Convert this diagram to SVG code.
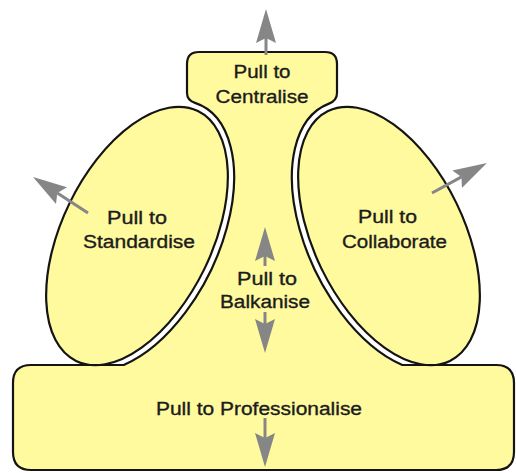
<svg xmlns="http://www.w3.org/2000/svg" width="516" height="473" viewBox="0 0 516 473">
  <style>
    .area { fill: #fffa9e; stroke: #141414; stroke-width: 2.2; stroke-linejoin: round; }
    .label { font-family: "Liberation Sans", Arial, sans-serif; font-size: 18px; fill: #1c1c1c; stroke: #1c1c1c; stroke-width: 0.35; text-anchor: middle; }
    .pull { fill: none; stroke: #868686; stroke-width: 3; marker-end: url(#head); }
  </style>
  <defs>
    <!-- swept-back arrowhead; line ends at the notch (x=5) -->
    <marker id="head" markerUnits="userSpaceOnUse" viewBox="0 -11 36 22" markerWidth="36" markerHeight="22" refX="5" refY="0" orient="auto">
      <path d="M0,-10 L34,0 L0,10 L5,0 Z" fill="#868686"/>
    </marker>
  </defs>

  <!-- shared outline: top box, central corridor and bottom box, bounded by offset curves of the ellipses -->
  <g id="frame">
    <path class="area" d="M31,365 L123.7,365 A81.5 145.5 26 0 0 195,102.9 Q187,100.2 187,93 L187,64 Q187,52 199,52 L325,52 Q337,52 337,64 L337,93 Q337,100.5 329,103.6 A81.5 145.5 -26 0 0 402.3,365 L496,365 Q514,365 514,383 L514,452 Q514,470 496,470 L31,470 Q13,470 13,452 L13,383 Q13,365 31,365 Z"/>
  </g>

  <g id="standardise">
    <ellipse class="area" cx="137" cy="236" rx="75" ry="139" transform="rotate(26 137 236)"/>
  </g>
  <g id="collaborate">
    <ellipse class="area" cx="389" cy="236" rx="75" ry="139" transform="rotate(-26 389 236)"/>
  </g>

  <g id="connectors">
    <line class="pull" x1="266" y1="55" x2="266" y2="38"/>
    <line class="pull" x1="88" y1="213" x2="57.3" y2="192.9"/>
    <line class="pull" x1="432" y1="193" x2="461.5" y2="176.9"/>
    <line class="pull" x1="265" y1="266" x2="265" y2="256"/>
    <line class="pull" x1="265" y1="312" x2="265" y2="324"/>
    <line class="pull" x1="265" y1="418" x2="265" y2="438"/>
  </g>

  <g id="centralise-label">
    <text class="label" x="262" y="78" textLength="57" lengthAdjust="spacingAndGlyphs">Pull to</text>
    <text class="label" x="262" y="103" textLength="93" lengthAdjust="spacingAndGlyphs">Centralise</text>
  </g>
  <g id="standardise-label">
    <text class="label" x="137" y="224" textLength="60" lengthAdjust="spacingAndGlyphs">Pull to</text>
    <text class="label" x="139" y="248" textLength="112" lengthAdjust="spacingAndGlyphs">Standardise</text>
  </g>
  <g id="collaborate-label">
    <text class="label" x="387.5" y="223" textLength="59" lengthAdjust="spacingAndGlyphs">Pull to</text>
    <text class="label" x="394.5" y="248" textLength="105" lengthAdjust="spacingAndGlyphs">Collaborate</text>
  </g>
  <g id="balkanise">
    <text class="label" x="267" y="285" textLength="60" lengthAdjust="spacingAndGlyphs">Pull to</text>
    <text class="label" x="265" y="308" textLength="90" lengthAdjust="spacingAndGlyphs">Balkanise</text>
  </g>
  <g id="professionalise">
    <text class="label" x="259" y="415" textLength="206" lengthAdjust="spacingAndGlyphs">Pull to Professionalise</text>
  </g>
</svg>
